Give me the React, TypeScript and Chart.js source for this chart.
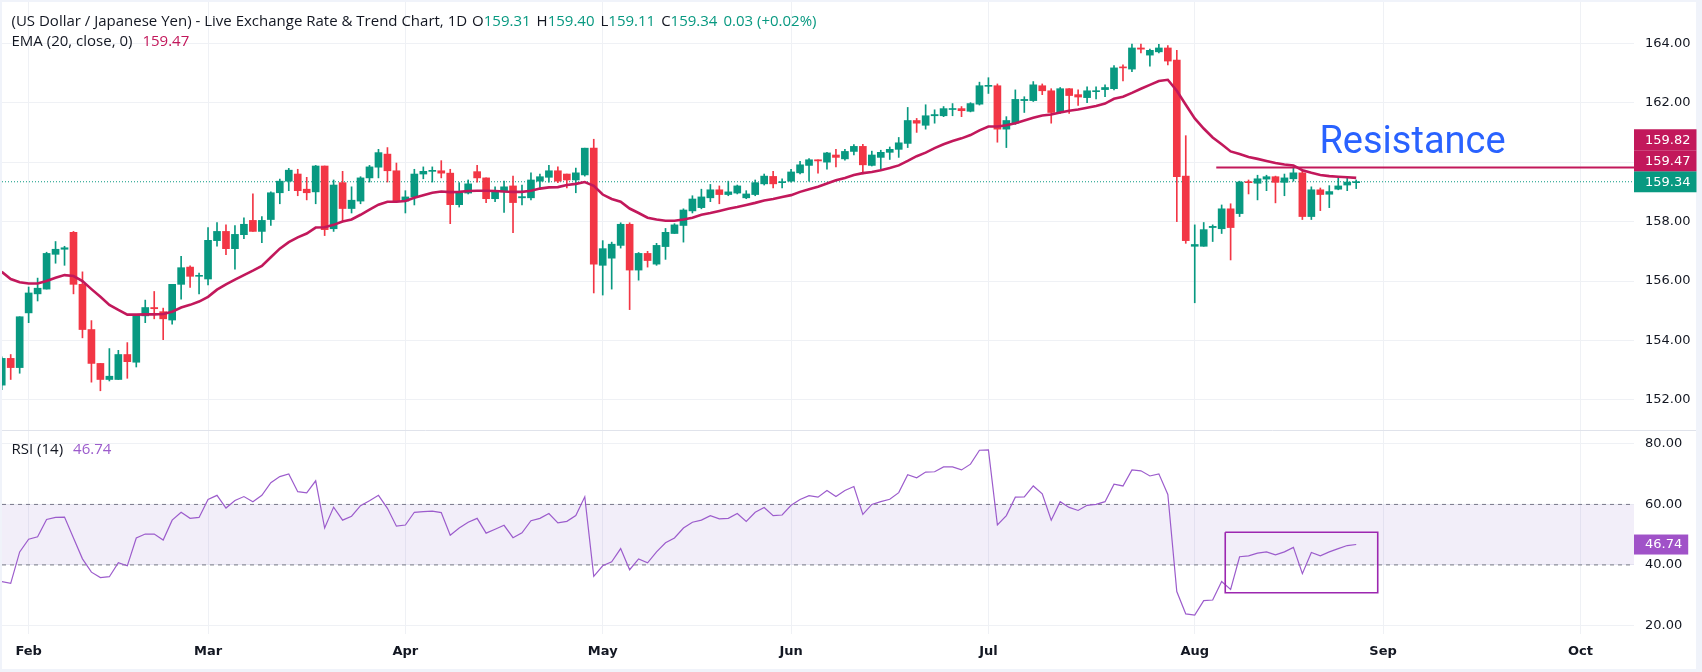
import React, { useEffect, useRef } from "react";
import { Chart, registerables } from "chart.js";

Chart.register(...registerables);

// ---------- data ----------
const months = ["Feb", "Mar", "Apr", "May", "Jun", "Jul", "Aug", "Sep", "Oct"];
const monthBars = [3, 23, 45, 67, 88, 110, 133, 154, 176];

const openP = [152.5,153.4,153.09,154.93,155.57,155.73,156.9,157.07,157.64,155.89,
154.37,153.23,152.69,152.69,153.53,153.27,154.83,155.11,154.97,154.69,
155.89,156.47,156.16,156.07,157.36,157.67,157.09,157.56,158.04,157.67,
158.07,158.97,159.36,159.6,159.09,159.0,159.87,157.76,159.31,158.44,
158.69,159.47,159.83,160.27,159.71,158.69,158.83,159.6,159.69,159.71,
159.63,158.57,158.96,159.68,159.47,158.77,159.0,159.2,158.8,158.8,
159.36,159.49,159.71,159.6,159.4,159.57,160.47,156.53,156.77,157.2,
157.91,156.37,156.93,156.57,157.16,157.6,157.87,158.36,158.47,158.8,
159.07,158.91,158.96,158.8,158.91,159.27,159.52,159.31,159.36,159.64,
159.89,160.08,160.0,160.24,160.11,160.36,160.53,159.89,160.16,160.33,
160.43,160.63,161.4,161.24,161.56,161.56,161.77,161.8,161.71,161.95,
162.55,162.57,161.11,161.31,162.07,162.07,162.57,162.4,161.67,162.47,
162.27,162.17,162.37,162.44,162.47,163.2,163.13,163.84,163.6,163.71,
163.84,163.43,159.53,157.17,157.17,157.8,157.76,158.43,158.27,159.33,
159.29,159.43,159.51,159.32,159.44,159.64,158.17,159.07,158.92,159.09,
159.23,159.31];

const highP = [153.45,153.53,154.8,155.8,156.1,156.97,157.33,157.17,157.67,156.31,
154.67,153.23,153.73,153.67,153.93,154.87,155.36,155.65,155.09,155.89,
156.83,156.51,156.27,157.8,157.97,157.89,157.87,158.13,158.93,158.17,
159.0,159.43,159.79,159.76,159.49,159.89,159.87,159.4,159.69,159.17,
159.51,159.89,160.43,160.49,159.97,159.04,159.76,159.84,159.84,160.05,
159.76,159.31,159.4,159.89,159.47,159.17,159.36,159.53,159.23,159.64,
159.6,159.89,159.84,159.6,159.8,160.47,160.77,157.36,157.31,157.96,
157.96,156.96,157.0,157.27,157.77,157.93,158.43,158.87,159.09,159.25,
159.2,159.36,159.23,159.04,159.4,159.6,159.69,159.44,159.76,160.03,
160.12,160.08,160.33,160.43,160.43,160.59,160.6,160.37,160.4,160.51,
160.83,161.84,161.47,161.93,161.76,161.87,161.97,161.87,162.0,162.69,
162.84,162.63,161.53,162.43,162.2,162.71,162.63,162.47,162.51,162.47,
162.43,162.53,162.53,162.6,163.25,163.27,163.97,163.97,163.8,163.96,
163.92,163.76,160.89,157.89,157.97,157.89,158.56,158.6,159.36,159.4,
159.56,159.56,159.53,159.6,159.84,159.73,159.17,159.13,159.21,159.49,
159.47,159.40];

const lowP = [152.35,152.69,152.9,154.6,155.33,155.73,156.6,156.53,155.57,154.09,
152.6,152.31,152.64,152.69,152.73,153.11,154.6,154.73,154.03,154.55,
155.39,155.79,155.57,155.87,157.17,156.89,156.4,157.43,157.67,157.29,
157.87,158.6,159.04,158.87,158.73,158.6,157.53,157.67,158.03,158.29,
158.6,159.33,159.47,159.33,158.64,158.29,158.56,159.44,159.33,159.47,
157.93,158.49,158.93,159.33,158.64,158.67,158.31,157.63,158.56,158.73,
159.13,159.33,159.31,159.13,158.97,159.53,155.6,155.53,155.73,157.11,
155.04,156.03,156.47,156.53,156.73,157.6,157.31,158.29,158.43,158.67,
158.6,158.87,158.93,158.77,158.87,159.23,159.13,159.13,159.33,159.6,
159.36,159.63,159.76,159.84,160.07,160.24,159.6,159.87,159.76,160.09,
160.16,160.49,161.0,161.11,161.31,161.53,161.56,161.53,161.69,161.92,
162.31,160.67,160.49,161.27,161.67,162.04,162.27,161.31,161.64,161.64,
161.91,162.0,162.13,162.2,162.43,162.73,163.04,163.67,163.23,163.67,
163.27,158.0,157.27,155.27,157.17,157.33,157.6,156.71,158.17,158.93,
158.73,159.04,158.63,158.87,159.36,158.07,158.07,158.37,158.47,159.07,
159.04,159.11];

const closeP = [153.4,153.09,154.8,155.6,155.76,156.93,157.07,157.12,155.89,154.37,
153.23,152.69,152.8,153.53,153.29,154.87,155.11,155.07,154.73,155.89,
156.45,156.16,156.19,157.37,157.67,157.09,157.57,157.91,157.67,158.04,
158.97,159.36,159.73,159.04,158.97,159.87,157.73,159.23,158.44,158.72,
159.47,159.84,160.32,159.71,158.69,158.83,159.6,159.69,159.72,159.63,
158.57,158.97,159.27,159.47,158.77,159.0,159.17,158.64,158.84,159.4,
159.51,159.71,159.36,159.4,159.64,160.47,156.57,157.09,157.24,157.91,
156.37,156.93,156.69,157.2,157.64,157.89,158.39,158.76,158.83,159.07,
158.91,159.0,159.2,158.93,159.31,159.53,159.27,159.33,159.67,159.91,
160.08,160.04,160.31,160.16,160.36,160.53,159.91,160.24,160.33,160.43,
160.65,161.4,161.31,161.56,161.6,161.8,161.8,161.73,161.97,162.57,
162.57,161.11,161.4,162.11,162.11,162.6,162.4,161.67,162.47,162.24,
162.19,162.4,162.4,162.51,163.17,163.17,163.84,163.8,163.76,163.84,
163.4,159.51,157.36,157.23,157.73,157.84,158.43,157.8,159.33,159.31,
159.44,159.51,159.32,159.47,159.64,158.17,159.07,158.91,159.01,159.2,
159.33,159.34];

const emaP = [156.31,156.07,155.96,155.92,155.92,156.0,156.11,156.2,156.17,156.0,
155.73,155.47,155.2,155.03,154.87,154.87,154.88,154.88,154.89,154.97,
155.11,155.2,155.31,155.47,155.71,155.89,156.05,156.2,156.35,156.51,
156.8,157.09,157.31,157.47,157.6,157.8,157.81,157.89,158.0,158.07,
158.23,158.4,158.57,158.67,158.67,158.69,158.8,158.89,158.97,159.01,
158.99,159.0,159.03,159.04,159.04,159.03,159.01,159.0,159.0,159.04,
159.11,159.15,159.16,159.23,159.27,159.33,159.2,158.91,158.76,158.67,
158.44,158.29,158.13,158.07,158.03,158.03,158.07,158.13,158.23,158.29,
158.36,158.43,158.49,158.56,158.63,158.71,158.76,158.83,158.89,159.0,
159.09,159.17,159.28,159.39,159.47,159.57,159.63,159.67,159.73,159.8,
159.89,160.04,160.2,160.32,160.47,160.6,160.71,160.8,160.91,161.07,
161.2,161.2,161.24,161.31,161.4,161.49,161.57,161.6,161.67,161.73,
161.77,161.83,161.89,161.97,162.13,162.2,162.33,162.47,162.6,162.73,
162.77,162.4,161.93,161.47,161.13,160.83,160.6,160.36,160.27,160.17,
160.11,160.04,159.97,159.92,159.89,159.73,159.64,159.57,159.53,159.51,
159.49,159.47];

const rsiP = [34.5,33.9,44.3,48.5,49.3,55.0,55.7,55.8,48.9,42.0,
37.6,35.8,36.1,40.7,39.7,48.9,50.2,50.2,48.2,54.8,
57.4,55.4,55.7,61.6,63.0,58.8,61.3,62.6,60.9,63.0,
67.2,69.2,70.1,64.2,63.8,67.8,52.2,59.1,54.8,56.1,
59.6,61.2,63.0,58.7,52.8,53.2,57.4,57.6,57.8,57.3,
49.8,52.2,54.1,55.4,50.5,51.8,53.1,49.0,50.6,54.6,
55.4,57.0,53.9,54.4,56.3,62.5,36.2,39.7,41.0,45.4,
38.4,42.0,40.7,44.3,47.3,48.9,52.2,54.1,54.8,56.3,
55.2,55.4,57.0,54.4,57.4,59.0,56.3,56.5,59.7,61.6,
62.9,62.4,64.6,62.6,64.6,65.9,56.7,60.0,60.9,61.7,
63.9,69.8,68.8,70.7,70.8,72.4,72.4,71.4,73.3,77.9,
78.0,53.2,56.3,62.4,62.5,66.1,63.5,54.8,60.9,59.0,
58.0,59.7,60.0,60.9,66.7,66.1,71.4,71.1,69.4,70.1,
63.3,31.2,23.8,23.4,28.2,28.4,34.5,31.9,42.7,43.0,
43.9,44.3,43.3,44.3,45.8,37.1,44.1,43.0,44.3,45.4,
46.4,46.74];

const priceTicks = [152, 154, 156, 158, 160, 162, 164];
const rsiTicks = [20, 40, 60, 80];
const rsiBand = [40, 60];
const resistanceLevel = 159.82;
const resistanceStartBar = 135.4;
const resistanceTextAt = [146.9, 160.3];
const rsiBoxBars = [136.4, 153.4];
const rsiBoxLevels = [30.8, 50.8];
const headerTitle = "(US Dollar / Japanese Yen) - Live Exchange Rate & Trend Chart, 1D";
const ohlcKeys = ["O", "H", "L", "C"];
const ohlcVals = ["159.31", "159.40", "159.11", "159.34"];
const changeText = "0.03 (+0.02%)";
const emaLabel = "EMA (20, close, 0)";
const rsiLabel = "RSI (14)";
const lastClose = 159.34;
const lastEma = 159.47;
const lastRsi = 46.74;

// ---------- view ----------
const X_MIN = 0.03;
const X_MAX = 181.97;
const GREEN = "#089981";
const RED = "#f23645";
const CRIMSON = "#c2185b";
const PURPLE = "#9c5ccc";
const DARK = "#131722";
const GRID = "#eff1f5";
const LEGEND_FONT = '15px "Open Sans"';

const idx = closeP.map((_, i) => i);
const candleColors = idx.map((i) => (closeP[i] >= openP[i] ? GREEN : RED));

const overlayPlugin = {
  id: "overlay",
  beforeDraw(chart: any) {
    const { ctx, width, height } = chart;
    ctx.save();
    ctx.fillStyle = "#f0f3fa";
    ctx.fillRect(0, 0, width, height);
    ctx.fillStyle = "#ffffff";
    ctx.fillRect(2, 2, width - 8, height - 5);
    ctx.restore();
  },
  afterDraw(chart: any) {
    const { ctx, chartArea, scales } = chart;
    const ys = scales.y;
    const rs = scales.rsi;
    const xs = scales.x;
    ctx.save();
    // pane separator
    ctx.strokeStyle = "#e0e3eb";
    ctx.lineWidth = 1;
    const sy = Math.round(rs.top) + 0.5;
    ctx.beginPath();
    ctx.moveTo(2, sy);
    ctx.lineTo(chart.width - 6, sy);
    ctx.stroke();

    // Resistance text
    ctx.font = "38px Roboto";
    ctx.fillStyle = "#2962ff";
    ctx.textAlign = "left";
    ctx.textBaseline = "alphabetic";
    ctx.fillText("Resistance", xs.getPixelForValue(resistanceTextAt[0]), ys.getPixelForValue(resistanceTextAt[1]));

    // axis tags
    const tag = (text: string, color: string, top: number, h: number) => {
      ctx.font = '13px "DejaVu Sans"';
      const w = ctx.measureText(text).width + 17;
      ctx.fillStyle = color;
      ctx.fillRect(chartArea.right, top, w, h);
      ctx.fillStyle = "#ffffff";
      ctx.textBaseline = "middle";
      ctx.textAlign = "left";
      ctx.fillText(text, chartArea.right + 11, top + h / 2 + 0.5);
    };
    const h = 21;
    const gTop = ys.getPixelForValue(lastClose) - h / 2;
    tag(lastClose.toFixed(2), GREEN, gTop, h);
    tag(lastEma.toFixed(2), CRIMSON, gTop - h, h);
    tag(resistanceLevel.toFixed(2), CRIMSON, gTop - 2 * h, h);
    tag(lastRsi.toFixed(2), "#a052c8", rs.getPixelForValue(lastRsi) - 10, 20);

    // legends
    ctx.font = LEGEND_FONT;
    ctx.textBaseline = "middle";
    ctx.textAlign = "left";
    let x = 11.5;
    let y = 21.5;
    ctx.fillStyle = DARK;
    ctx.fillText(headerTitle, x, y);
    x += ctx.measureText(headerTitle).width + 5;
    for (let k = 0; k < ohlcKeys.length; k++) {
      ctx.fillStyle = DARK;
      ctx.fillText(ohlcKeys[k], x, y);
      x += ctx.measureText(ohlcKeys[k]).width;
      ctx.fillStyle = GREEN;
      ctx.fillText(ohlcVals[k], x, y);
      x += ctx.measureText(ohlcVals[k]).width + 6;
    }
    ctx.fillStyle = GREEN;
    ctx.fillText(changeText, x, y);

    y = 41.5;
    x = 11.5;
    ctx.fillStyle = DARK;
    ctx.fillText(emaLabel, x, y);
    x += ctx.measureText(emaLabel).width + 10;
    ctx.fillStyle = CRIMSON;
    ctx.fillText(lastEma.toFixed(2), x, y);

    y = rs.top + 20;
    x = 11.5;
    ctx.fillStyle = DARK;
    ctx.fillText(rsiLabel, x, y);
    x += ctx.measureText(rsiLabel).width + 10;
    ctx.fillStyle = PURPLE;
    ctx.fillText(lastRsi.toFixed(2), x, y);
    ctx.restore();
  },
};

export default function App() {
  const ref = useRef<HTMLCanvasElement>(null);
  useEffect(() => {
    document.body.style.margin = "0";
    if (!ref.current) return;
    const yTickCb = (v: any) => Number(v).toFixed(2);
    const chart = new Chart(ref.current, {
      type: "bar",
      data: {
        datasets: [
          {
            type: "line",
            yAxisID: "rsi",
            data: [{ x: X_MIN, y: rsiBand[1] }, { x: X_MAX, y: rsiBand[1] }],
            borderColor: "#787b86",
            borderWidth: 1,
            borderDash: [4, 4],
            pointRadius: 0,
            fill: false,
            order: 20,
          } as any,
          {
            type: "line",
            yAxisID: "rsi",
            data: [{ x: X_MIN, y: rsiBand[0] }, { x: X_MAX, y: rsiBand[0] }],
            borderColor: "#787b86",
            borderWidth: 1,
            borderDash: [4, 4],
            pointRadius: 0,
            fill: { value: rsiBand[1] },
            backgroundColor: "rgba(126,87,194,0.1)",
            order: 19,
          } as any,
          {
            type: "line",
            yAxisID: "y",
            data: [{ x: X_MIN, y: lastClose }, { x: X_MAX, y: lastClose }],
            borderColor: GREEN,
            borderWidth: 1,
            borderDash: [1, 2],
            pointRadius: 0,
            fill: false,
            order: 18,
          } as any,
          {
            type: "bar",
            yAxisID: "y",
            data: idx.map((i) => ({ x: i, y: [lowP[i], highP[i]] })),
            backgroundColor: candleColors,
            barThickness: 1,
            grouped: false,
            borderWidth: 0,
            order: 6,
          } as any,
          {
            type: "bar",
            yAxisID: "y",
            data: idx.map((i) => ({ x: i, y: [openP[i], closeP[i]] })),
            backgroundColor: candleColors,
            barThickness: 7,
            minBarLength: 1,
            grouped: false,
            borderWidth: 0,
            order: 5,
          } as any,
          {
            type: "line",
            yAxisID: "y",
            data: idx.map((i) => ({ x: i, y: emaP[i] })),
            borderColor: CRIMSON,
            borderWidth: 2.6,
            pointRadius: 0,
            fill: false,
            order: 3,
          } as any,
          {
            type: "line",
            yAxisID: "y",
            data: [{ x: resistanceStartBar, y: resistanceLevel }, { x: X_MAX, y: resistanceLevel }],
            borderColor: CRIMSON,
            borderWidth: 2,
            pointRadius: 0,
            fill: false,
            order: 2,
          } as any,
          {
            type: "line",
            yAxisID: "rsi",
            data: idx.map((i) => ({ x: i, y: rsiP[i] })),
            borderColor: PURPLE,
            borderWidth: 1.2,
            pointRadius: 0,
            fill: false,
            order: 1,
          } as any,
          {
            type: "line",
            yAxisID: "rsi",
            data: [
              { x: rsiBoxBars[0], y: rsiBoxLevels[1] },
              { x: rsiBoxBars[1], y: rsiBoxLevels[1] },
              { x: rsiBoxBars[1], y: rsiBoxLevels[0] },
              { x: rsiBoxBars[0], y: rsiBoxLevels[0] },
              { x: rsiBoxBars[0], y: rsiBoxLevels[1] },
            ],
            borderColor: "#9c27b0",
            borderWidth: 1.6,
            pointRadius: 0,
            fill: false,
            order: 0,
          } as any,
        ],
      },
      options: {
        responsive: false,
        animation: false,
        events: [],
        layout: { padding: { left: 2, right: 6, top: 2, bottom: 3 }, autoPadding: false } as any,
        plugins: { legend: { display: false }, tooltip: { enabled: false } },
        scales: {
          x: {
            type: "linear",
            min: X_MIN,
            max: X_MAX,
            offset: false,
            position: "bottom",
            afterBuildTicks: (s: any) => {
              s.ticks = monthBars.map((v) => ({ value: v }));
            },
            afterFit: (s: any) => {
              s.height = 35;
              s.paddingLeft = 0;
              s.paddingRight = 0;
            },
            ticks: {
              autoSkip: false,
              maxRotation: 0,
              padding: 10,
              color: DARK,
              font: { family: "DejaVu Sans", size: 13, weight: "bold" },
              callback: (v: any) => {
                const k = monthBars.indexOf(Number(v));
                return k >= 0 ? months[k] : "";
              },
            },
            grid: { color: GRID, drawTicks: false, offset: false },
            border: { display: false },
          },
          y: {
            type: "linear",
            position: "right",
            stack: "pane",
            stackWeight: 428,
            min: 150.991,
            max: 165.386,
            afterBuildTicks: (s: any) => {
              s.ticks = priceTicks.map((v) => ({ value: v }));
            },
            afterFit: (s: any) => {
              s.width = 62;
              s.paddingTop = 0;
              s.paddingBottom = 0;
            },
            ticks: { padding: 11, color: DARK, font: { family: "DejaVu Sans", size: 13 }, callback: yTickCb },
            grid: { color: GRID, drawTicks: false },
            border: { display: false },
          },
          rsi: {
            type: "linear",
            position: "right",
            stack: "pane",
            stackWeight: 204,
            min: 17.16,
            max: 84.6,
            afterBuildTicks: (s: any) => {
              s.ticks = rsiTicks.map((v) => ({ value: v }));
            },
            afterFit: (s: any) => {
              s.width = 62;
              s.paddingTop = 0;
              s.paddingBottom = 0;
            },
            ticks: { padding: 11, color: DARK, font: { family: "DejaVu Sans", size: 13 }, callback: yTickCb },
            grid: { color: GRID, drawTicks: false },
            border: { display: false },
          },
        } as any,
      },
      plugins: [overlayPlugin],
    } as any);
    return () => chart.destroy();
  }, []);
  return (
    <div style={{ width: 1702, height: 672 }}>
      <canvas ref={ref} width={1702} height={672} style={{ display: "block", width: 1702, height: 672 }} />
    </div>
  );
}
